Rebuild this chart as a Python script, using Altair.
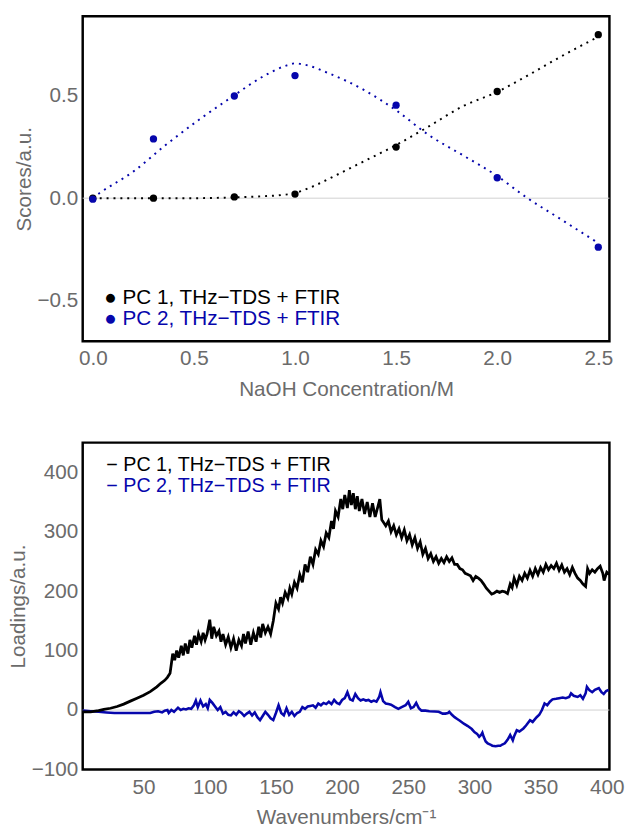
import altair as alt
import pandas as pd

# ---------------- data: top panel (scores) ----------------
conc = [0.0, 0.3, 0.7, 1.0, 1.5, 2.0, 2.5]
pc1_scores = [0.0, 0.0, 0.006, 0.02, 0.25, 0.522, 0.80]
pc2_scores = [-0.005, 0.29, 0.50, 0.60, 0.455, 0.10, -0.24]

pc1_fit_x = [0, 0.3, 0.5, 0.7, 0.85, 0.93, 1.0, 1.07, 1.11, 1.17, 1.34, 1.5, 1.66, 1.83, 2.0, 2.15, 2.31, 2.5]
pc1_fit_y = [0, 0, 0, 0.004, 0.01, 0.015, 0.025, 0.05, 0.067, 0.096, 0.18, 0.26, 0.35, 0.45, 0.52, 0.60, 0.69, 0.79]
pc2_fit_x = [0, 0.034, 0.2, 0.36, 0.52, 0.68, 0.85, 0.96, 1.0, 1.04, 1.17, 1.34, 1.5, 1.66, 1.83, 1.99, 2.15, 2.31, 2.5]
pc2_fit_y = [0, 0.025, 0.13, 0.26, 0.38, 0.49, 0.60, 0.65, 0.66, 0.655, 0.61, 0.53, 0.43, 0.31, 0.21, 0.115, 0.0, -0.10, -0.22]

# ---------------- data: bottom panel (loadings) ----------------
pc1_load_x = [4, 10, 16, 20, 25, 30, 35, 40, 45, 50, 55, 60, 63, 66, 68, 70, 71, 72, 73.5, 75, 76.5, 78.5, 80, 81.5,
              83.5, 85, 86.5, 88.5, 90, 91.5, 93.5, 95, 96.5, 98, 100, 101.5, 103, 105, 107, 108.5, 110, 112, 114, 116,
              118, 120, 122, 124, 125.5, 127, 129, 131, 133, 135, 137, 138.5, 140, 142, 144, 146, 148, 150, 152, 153.5,
              155, 157, 159, 160.5, 162, 164, 166, 168, 170, 172, 174, 176, 178, 180, 182, 184, 186, 188, 190, 192,
              193.5, 195, 197, 199, 200.5, 202, 204, 205.5, 207, 208.5, 210, 211.5, 213, 215, 217, 219, 221, 223, 225,
              227, 228.5, 230, 231.5, 233, 235, 237, 239, 241, 243, 245, 247, 249, 251, 253, 255, 257, 259, 261, 263,
              265, 267, 269, 271, 273, 275, 277, 279, 281, 283, 285, 287, 289, 291, 293, 295, 297, 299, 301, 303, 305,
              307, 309, 311, 313, 315, 317, 319, 321, 323, 325, 327, 328.5, 330, 332, 334, 336, 338, 340, 342, 344,
              346, 348, 350, 352, 354, 356, 358, 360, 362, 364, 366, 368, 370, 372, 374, 376, 378, 380, 382, 384,
              385.5, 387, 389, 391, 393, 395, 397, 398, 400, 402]
pc1_load_y = [-3, -3, -1, 1, 3, 6, 10, 15, 20, 25, 31, 39, 45, 50, 55, 62, 78, 95, 84, 100, 88, 108, 92, 112,
              95, 118, 105, 125, 110, 128, 115, 130, 118, 128, 152, 120, 140, 125, 133, 115, 128, 110, 123, 105,
              120, 100, 118, 108, 128, 112, 132, 110, 130, 115, 140, 122, 145, 130, 140, 128, 150, 180, 170, 190,
              180, 198, 188, 205, 195, 215, 205, 228, 215, 245, 232, 258, 245, 270, 262, 285, 275, 298, 290, 318,
              305, 335, 325, 355, 338, 362, 340, 370, 345, 365, 338, 360, 335, 355, 330, 350, 325, 348, 325,
              342, 355, 320, 315, 310, 318, 300, 310, 295, 305, 290, 303, 285, 295, 278, 290, 272, 283, 262, 272,
              255, 263, 250, 258, 247, 255, 248, 258, 250, 256, 245, 245, 238, 236, 230, 228, 226, 218, 225, 222, 218,
              212, 205, 200, 195, 197, 200, 198, 200, 199, 196, 212, 206, 222, 210, 225, 218, 230, 222, 235, 225,
              238, 228, 240, 232, 245, 236, 243, 238, 247, 235, 244, 232, 238, 228, 240, 230, 222, 218, 212, 208,
              238, 230, 236, 232, 238, 242, 230, 218, 232, 228]

pc2_load_x = [4, 10, 16, 22, 28, 35, 42, 50, 55, 58, 61, 64, 66, 68, 69, 71, 73, 76, 78, 80, 82, 84, 86, 88, 89.5,
              91, 93, 95, 97, 98.5, 100, 102, 104, 106, 108, 110, 112, 114, 116, 118, 120, 122, 124, 126, 128, 130,
              132, 134, 136, 138, 140, 142, 144, 146, 148, 150, 152, 154, 156, 158, 160, 162, 164, 166, 168, 170, 172,
              174, 176, 178, 180, 182, 184, 186, 188, 190, 192, 194, 196, 198, 200, 202, 204, 206, 208, 210, 212, 214,
              216, 218, 220, 222, 224, 226, 228, 229, 231, 233, 235, 237, 240, 242.5, 245, 248, 250, 252, 254, 256,
              258, 260, 263, 266, 270, 273, 276, 278, 280, 281, 283, 285, 287, 289, 292, 295, 298, 300, 302, 303.6,
              305, 306, 307, 308.5, 310, 312, 313.5, 316, 318, 319.6, 321, 323, 325, 327, 329, 330, 332, 334, 337,
              339, 342, 344, 347, 349, 351, 353, 355, 357, 359, 361.7, 364, 366.7, 369, 371.6, 373, 375, 378, 380,
              382, 384, 385, 387, 389, 391, 394, 396, 397.7, 399.5, 401.4]
pc2_load_y = [-1, -2, -3, -4, -5, -5, -5, -5, -5, -3, -2, -4, -1, 0, -5, 0, -3, 4, 0, 2, 1, 3, 2, 8, 16,
              5, 16, 6, 10, 3, 17, 12, 6, 0, 5, -6, -3, -8, -9, -4, -8, -2, -5, -10, -6, -3,
              -9, -4, -12, -17, -10, -3, -8, -14, -17, -5, 8, -5, -9, 3, -8, -3, -10, -5, -3, 5, 2,
              6, 7, 8, 4, 11, 8, 12, 10, 14, 10, 17, 12, 10, 17, 20, 30, 18, 16, 27, 20, 16,
              18, 16, 17, 14, 16, 14, 22, 30, 15, 11, 10, 9, 5, 2, 5, 8, 14, 3, 5, 12,
              3, -1, -1, -2, -2.5, -3, -6, -6, -5, -3, -8, -12, -15, -18, -23, -27, -32, -37, -40, -45,
              -42, -38, -45, -53, -56, -58, -60, -61, -60, -60, -58, -56, -50, -42, -51, -44, -34, -36, -31,
              -26, -17, -20, -12, -8, 0, 11, 8, 14, 18, 19, 20, 21, 20, 22, 28, 24, 22, 25,
              19, 28, 39, 33, 30, 34, 37, 30, 27, 32, 34]

legend_labels = ["PC 1, THz\u2212TDS + FTIR", "PC 2, THz\u2212TDS + FTIR"]

BLACK = "#000000"
BLUE = "#0606ac"
GRAY = "#6b6b6b"
FONT = "Liberation Sans"
FS = 21

# ---------------- tables ----------------
scores = pd.DataFrame({
    "c": conc * 2,
    "s": pc1_scores + pc2_scores,
    "pc": ["PC1"] * len(conc) + ["PC2"] * len(conc),
})
fit1 = pd.DataFrame({"c": pc1_fit_x, "s": pc1_fit_y})
fit2 = pd.DataFrame({"c": pc2_fit_x, "s": pc2_fit_y})
load1 = pd.DataFrame({"w": pc1_load_x, "l": pc1_load_y})
load2 = pd.DataFrame({"w": pc2_load_x, "l": pc2_load_y})
zero = pd.DataFrame({"z": [0]})

W = 535
H_TOP = 330
H_BOT = 332

xax = dict(labelPadding=7, titlePadding=10)
yax = dict(labelPadding=5, titlePadding=3)

xs_top = alt.Scale(domain=[-0.05, 2.555], nice=False, zero=False)
ys_top = alt.Scale(domain=[-0.70, 0.89], nice=False, zero=False)

x_top = alt.X("c:Q", scale=xs_top,
              axis=alt.Axis(values=[0, 0.5, 1.0, 1.5, 2.0, 2.5], format=".1f", title="NaOH Concentration/M", **xax))
y_top = alt.Y("s:Q", scale=ys_top,
              axis=alt.Axis(values=[-0.5, 0, 0.5], format=".1f", title="Scores/a.u.", **yax))

zero_top = alt.Chart(zero).mark_rule(color="#d0d0d0", strokeWidth=1).encode(y=alt.Y("z:Q", scale=ys_top))

fit_line_1 = alt.Chart(fit1).mark_line(color=BLACK, strokeWidth=2, strokeDash=[2, 5], interpolate="monotone",
                                       clip=True).encode(x=x_top, y=y_top)
fit_line_2 = alt.Chart(fit2).mark_line(color=BLUE, strokeWidth=2, strokeDash=[2, 5], interpolate="monotone",
                                       clip=True).encode(x=x_top, y=y_top)
pts = alt.Chart(scores).mark_circle(size=55, opacity=1).encode(
    x=x_top, y=y_top,
    color=alt.Color("pc:N", scale=alt.Scale(domain=["PC1", "PC2"], range=[BLACK, BLUE]), legend=None),
)

leg_top_1 = alt.Chart(pd.DataFrame({"t": ["\u25CF " + legend_labels[0]]})).mark_text(
    align="left", baseline="middle", fontSize=FS, font=FONT, color=BLACK
).encode(x=alt.value(22), y=alt.value(286), text="t:N")
leg_top_2 = alt.Chart(pd.DataFrame({"t": ["\u25CF " + legend_labels[1]]})).mark_text(
    align="left", baseline="middle", fontSize=FS, font=FONT, color=BLUE
).encode(x=alt.value(22), y=alt.value(308), text="t:N")

top = alt.layer(zero_top, fit_line_1, fit_line_2, pts, leg_top_1, leg_top_2).properties(width=W, height=H_TOP)

xs_bot = alt.Scale(domain=[4, 402], nice=False, zero=False)
ys_bot = alt.Scale(domain=[-100, 450], nice=False, zero=False)
x_bot = alt.X("w:Q", scale=xs_bot,
              axis=alt.Axis(values=[50, 100, 150, 200, 250, 300, 350, 400], title="Wavenumbers/cm\u207B\u00B9",
                            **xax))
y_bot = alt.Y("l:Q", scale=ys_bot,
              axis=alt.Axis(values=[-100, 0, 100, 200, 300, 400], title="Loadings/a.u.", **yax))

zero_bot = alt.Chart(zero).mark_rule(color="#d0d0d0", strokeWidth=1).encode(y=alt.Y("z:Q", scale=ys_bot))
line1 = alt.Chart(load1).mark_line(color=BLACK, strokeWidth=2.8, clip=True).encode(x=x_bot, y=y_bot)
line2 = alt.Chart(load2).mark_line(color=BLUE, strokeWidth=2.6, clip=True).encode(x=x_bot, y=y_bot)

leg_bot_1 = alt.Chart(pd.DataFrame({"t": ["\u2212 " + legend_labels[0]]})).mark_text(
    align="left", baseline="middle", fontSize=20, font=FONT, color=BLACK
).encode(x=alt.value(24), y=alt.value(23), text="t:N")
leg_bot_2 = alt.Chart(pd.DataFrame({"t": ["\u2212 " + legend_labels[1]]})).mark_text(
    align="left", baseline="middle", fontSize=20, font=FONT, color=BLUE
).encode(x=alt.value(24), y=alt.value(44), text="t:N")

bottom = alt.layer(zero_bot, line2, line1, leg_bot_1, leg_bot_2).properties(width=W, height=H_BOT)

chart = alt.vconcat(top, bottom, spacing=40).properties(
    padding={"left": 6, "top": 8, "right": 10, "bottom": 0},
    background="white",
).configure_view(
    stroke="black", strokeWidth=2.5
).configure_axis(
    domain=False, ticks=False, grid=False,
    labelFont=FONT, labelFontSize=FS, labelColor=GRAY,
    titleFont=FONT, titleFontSize=FS, titleColor=GRAY, titleFontWeight="normal",
)

chart.save("out.html", embed_options={"renderer": "svg", "actions": False})
